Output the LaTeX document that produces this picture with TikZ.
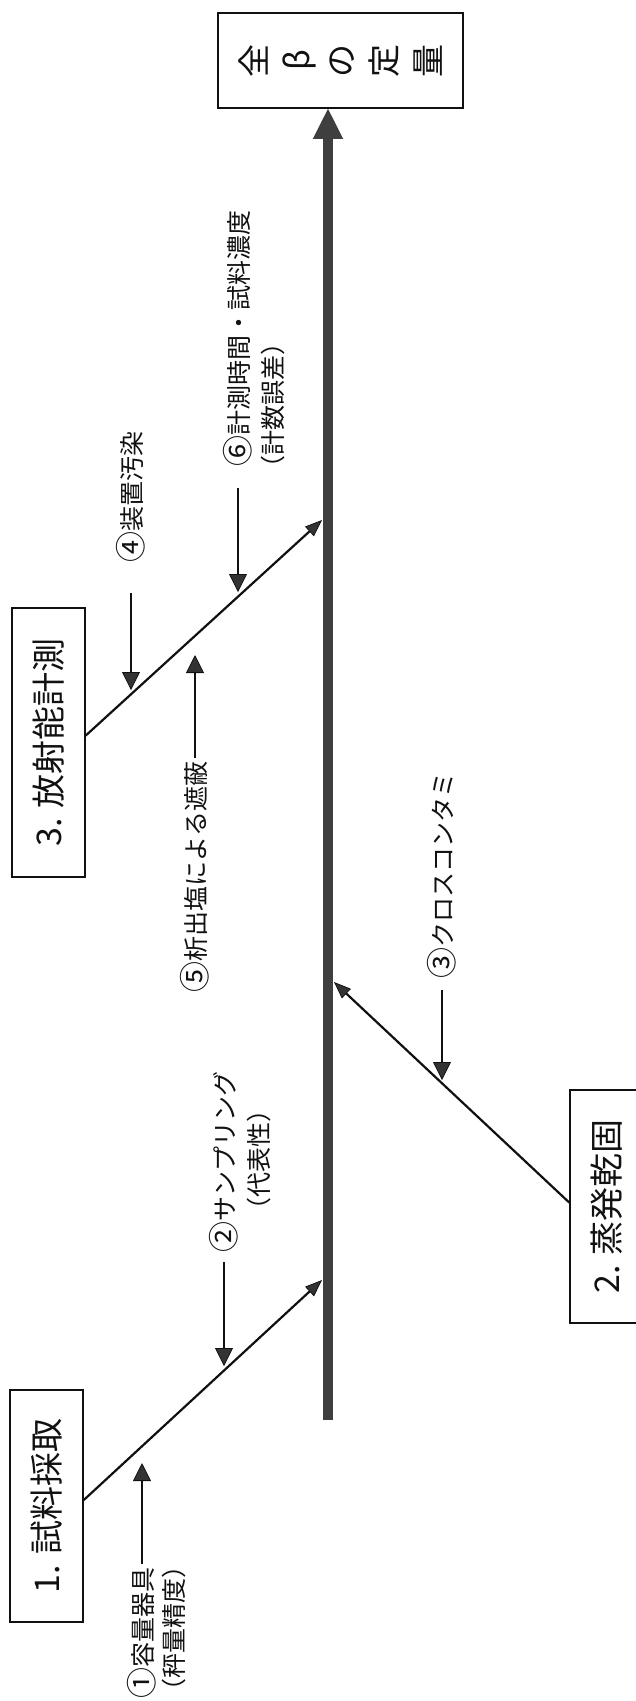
\documentclass[tikz,border=0pt]{standalone}
\usepackage{fontspec}
\newfontfamily\jp{Noto Sans CJK JP}
\usetikzlibrary{arrows.meta}
\definecolor{tipgray}{HTML}{333333}
\definecolor{spinegray}{HTML}{3F3F3F}
\definecolor{ink}{HTML}{111111}
\newcommand\cnum[1]{\raisebox{-1.5pt}{\fontsize{31}{30}\selectfont #1}}
\begin{document}
\begin{tikzpicture}[x=1pt,y=-1pt,
  boxnode/.style={draw=ink, line width=1.6pt, rotate=90, inner sep=0pt, text=ink, font=\jp\fontsize{34}{40}\selectfont},
  lab/.style={rotate=90, inner sep=0pt, text=ink, font=\jp\fontsize{25}{30}\selectfont},
  bone/.style={draw=ink, line width=2.2pt, -{Triangle[length=17pt,width=13pt,line width=0.8pt,fill=tipgray]}},
  cause/.style={draw=ink, line width=2pt, -{Triangle[length=18pt,width=18pt,line width=0.8pt,fill=tipgray]}},
  spine/.style={draw=spinegray, line width=10pt, -{Triangle[length=30pt,width=30pt,line width=1pt,fill=spinegray]}}
]
\useasboundingbox (0,0) rectangle (635,1701);
\fill[white] (0,0) rectangle (635,1701);

% goal box
\node[draw=ink, line width=1.6pt, minimum width=245pt, minimum height=95pt, inner sep=0pt] (goal) at (340.5,60.5) {};
\node[rotate=90, align=center, text=ink, inner sep=0pt, font=\jp\fontsize{33}{43.5}\selectfont] (goaltxt) at (goal.center) {全\\β\\の\\定\\量};

% process boxes
\node[boxnode, minimum width=232pt, minimum height=73pt] (b1) at (46.5,1506) {1. 試料採取};
\node[boxnode, minimum width=269pt, minimum height=73pt] (b3) at (48.5,742.5) {3. 放射能計測};
\node[boxnode, minimum width=233pt, minimum height=73pt] (b2) at (606.5,1206.5) {2. 蒸発乾固};

% spine
\coordinate (sb) at (328,1420);
\draw[spine] (sb) -- (sb |- goal.south);

% bones
\coordinate (s1) at (322,1280);
\coordinate (s3) at (322,520);
\coordinate (s2) at (334,982);
\draw[bone] ([yshift=6pt]b1.south) -- (s1);
\draw[bone] ([yshift=7pt]b3.south) -- (s3);
\draw[bone] ([yshift=4pt]b2.north) -- (s2);

% labels
\node[lab] (l1) at (142,1633) {\cnum{①}容量器具};
\node[lab] (l1b) at (173.5,1628) {（秤量精度）};
\node[lab] (l2) at (224,1162) {\cnum{②}サンプリング};
\node[lab] (l2b) at (259,1160) {（代表性）};
\node[lab] (l3) at (442,875) {\cnum{③}クロスコンタミ};
\node[lab] (l4) at (131,497) {\cnum{④}装置汚染};
\node[lab] (l5) at (195,877) {\cnum{⑤}析出塩による遮蔽};
\node[lab] (l6) at (238,338) {\cnum{⑥}計測時間・試料濃度};
\node[lab] (l6b) at (273,405) {（計数誤差）};

% arrow targets on the bones
\coordinate (t1) at (142,1463);
\coordinate (t2) at (224,1366);
\coordinate (t3) at (442,1080);
\coordinate (t4) at (131,690);
\coordinate (t5) at (195,655);
\coordinate (t6) at (238,592);

% cause arrows
\draw[cause] ([yshift=3pt]l1.east) -- (l1.east |- t1);
\draw[cause] ([yshift=-10pt]l2.west) -- (l2.west |- t2);
\draw[cause] ([yshift=-12pt]l3.west) -- (l3.west |- t3);
\draw[cause] ([yshift=-30pt]l4.west) -- (l4.west |- t4);
\draw[cause] ([yshift=4pt]l5.east) -- (l5.east |- t5);
\draw[cause] ([yshift=-22pt]l6.west) -- (l6.west |- t6);
\end{tikzpicture}
\end{document}
